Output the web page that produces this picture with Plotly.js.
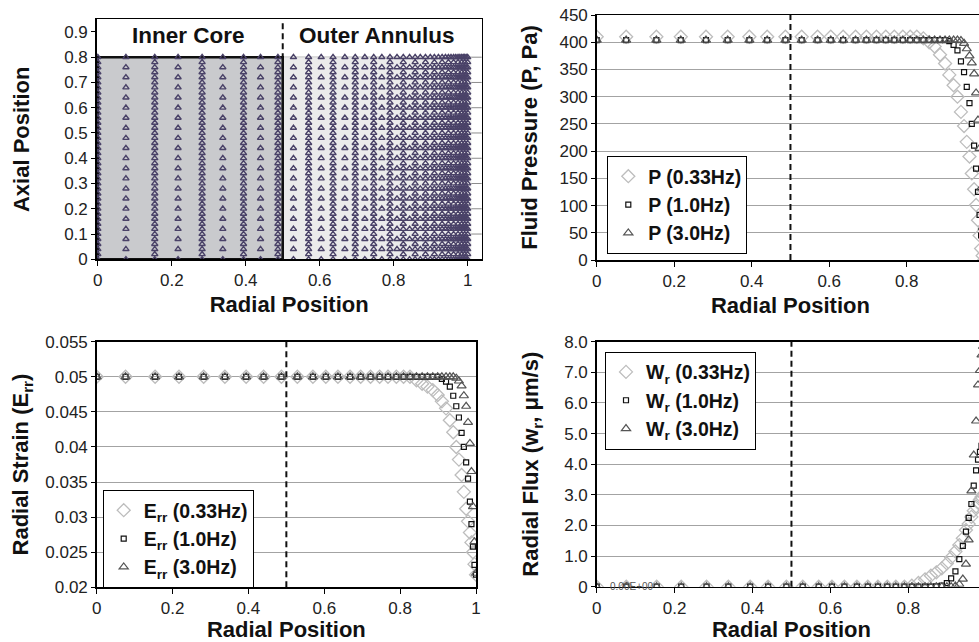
<!DOCTYPE html>
<html><head><meta charset="utf-8">
<script src="https://cdn.plot.ly/plotly-3.0.1.min.js"></script>
<style>html,body{margin:0;padding:0;overflow:hidden;background:#fff;width:979px;height:642px}#chart{width:990px;height:642px}</style>
</head><body><div id="chart"></div>
<script>
// Radial node positions (normalised radius)
const radialNodes = [0, 0.076, 0.154, 0.217, 0.282, 0.338, 0.394, 0.440, 0.487, 0.529, 0.570, 0.604, 0.636, 0.668, 0.696, 0.722, 0.746, 0.768, 0.790, 0.809, 0.826, 0.843, 0.858, 0.872, 0.886, 0.899, 0.910, 0.921, 0.931, 0.940, 0.948, 0.955, 0.962, 0.968, 0.974, 0.979, 0.984, 0.988, 0.992, 0.996, 1.0];
// Axial node positions: corner-node columns and mid-side-node columns
const axialCorner = [0,0.02,0.04,0.06,0.08,0.10,0.12,0.14,0.16,0.18,0.20,0.22,0.24,0.26,0.28,0.30,0.32,0.34,0.36,0.38,0.40,0.42,0.44,0.46,0.48,0.50,0.52,0.54,0.56,0.58,0.60,0.62,0.64,0.66,0.68,0.70,0.72,0.74,0.76,0.78,0.80];
const axialMid = [0,0.04,0.08,0.12,0.16,0.20,0.24,0.28,0.32,0.36,0.40,0.44,0.48,0.52,0.56,0.60,0.64,0.68,0.72,0.76,0.80];

// Fluid pressure (Pa)
const pressure033 = [410,410,410,410,410,410,410,410,410,410,410,410,410,410,410,410,410,410,410,410,410,407,400,392,377,361,340,321,300,272,246,217,190,159,130,101,73,45,21,8,0];
const pressure10  = [404,404,404,404,404,404,404,404,404,404,404,404,404,404,404,404,404,404,404,404,404,404,404,404,404,404,402,395,385,365,345,318,288,250,210,168,125,83,45,18,0];
const pressure30  = [404,404,404,404,404,404,404,404,404,404,404,404,404,404,404,404,404,404,404,404,404,404,404,404,404,404,404,404,404,403,398,388,375,362,342,307,257,205,132,60,0];
// Radial strain
const strain033 = [0.05,0.05,0.05,0.05,0.05,0.05,0.05,0.05,0.05,0.05,0.05,0.05,0.05,0.05,0.05,0.05,0.05,0.05,0.05,0.05,0.05,0.0495,0.0490,0.0486,0.0481,0.0474,0.0465,0.0455,0.0438,0.0421,0.0400,0.0382,0.0360,0.0336,0.0312,0.0294,0.0278,0.0264,0.0250,0.0233,0.0218];
const strain10  = [0.05,0.05,0.05,0.05,0.05,0.05,0.05,0.05,0.05,0.05,0.05,0.05,0.05,0.05,0.05,0.05,0.05,0.05,0.05,0.05,0.05,0.05,0.05,0.05,0.05,0.05,0.0497,0.0493,0.0486,0.0473,0.0458,0.0442,0.0420,0.0400,0.0378,0.0355,0.0322,0.0290,0.0258,0.0232,0.0218];
const strain30  = [0.05,0.05,0.05,0.05,0.05,0.05,0.05,0.05,0.05,0.05,0.05,0.05,0.05,0.05,0.05,0.05,0.05,0.05,0.05,0.05,0.05,0.05,0.05,0.05,0.05,0.05,0.05,0.05,0.05,0.05,0.0498,0.0494,0.0487,0.0473,0.0458,0.0435,0.0405,0.0365,0.0315,0.0265,0.0220];
// Radial flux (um/s)
const flux033 = [0,0,0,0,0,0,0,0,0,0,0,0,0,0,0,0,0,0,0,0.03,0.12,0.24,0.36,0.47,0.60,0.76,0.95,1.15,1.36,1.58,1.85,2.05,2.28,2.48,2.62,2.75,2.85,2.93,3.0,3.05,3.1];
const flux10  = [0,0,0,0,0,0,0,0,0,0,0,0,0,0,0,0,0,0,0,0,0,0,0,0.01,0.04,0.12,0.27,0.5,0.9,1.33,1.8,2.25,2.7,3.3,3.8,4.15,4.4,4.6,4.75,4.85,4.9];
const flux30  = [0,0,0,0,0,0,0,0,0,0,0,0,0,0,0,0,0,0,0,0,0,0,0,0,0,0,0,0.02,0.08,0.25,0.74,1.53,3.13,4.30,5.41,6.59,7.06,7.57,7.85,7.95,8.0];

const xTicks = [0,0.2,0.4,0.6,0.8,1];
const xTickText = ['0','0.2','0.4','0.6','0.8','1'];
const xTicksCropped = [0,0.2,0.4,0.6,0.8];
const xTickTextCropped = ['0','0.2','0.4','0.6','0.8'];
const axialTicks = [0,0.1,0.2,0.3,0.4,0.5,0.6,0.7,0.8,0.9];
const axialTickText = ['0','0.1','0.2','0.3','0.4','0.5','0.6','0.7','0.8','0.9'];
const meshGridLevels = [0.1,0.2,0.3,0.4,0.5,0.6,0.7,0.8];
const pressureTicks = [0,50,100,150,200,250,300,350,400,450];
const strainTicks = [0.02,0.025,0.03,0.035,0.04,0.045,0.05,0.055];
const strainTickText = ['0.02','0.025','0.03','0.035','0.04','0.045','0.05','0.055'];
const fluxTicks = [0,1,2,3,4,5,6,7,8];
const fluxTickText = ['0','1.0','2.0','3.0','4.0','5.0','6.0','7.0','8.0'];

// build mesh node table
const meshX = [], meshY = [];
radialNodes.forEach((r, i) => {
  const col = (i % 2 === 0) ? axialCorner : axialMid;
  col.forEach(z => { meshX.push(r); meshY.push(z); });
});

const FONT = 'Liberation Sans, Arial, Helvetica, sans-serif';
const diamond = {symbol:'diamond-open', size:10, color:'#bdbdbd', line:{width:1.3, color:'#bdbdbd'}};
const square = {symbol:'square-open', size:5, color:'#111', line:{width:1.2, color:'#111'}};
const tri = {symbol:'triangle-up-open', size:8, color:'#555', line:{width:1.2, color:'#555'}};

function series(y, name, marker, xa, ya, leg) {
  return {type:'scatter', mode:'markers', x: radialNodes, y: y, name: name, marker: marker,
          xaxis: xa, yaxis: ya, legend: leg, cliponaxis: true};
}

const traces = [
  {type:'scatter', mode:'markers', x: meshX, y: meshY, xaxis:'x', yaxis:'y', showlegend:false,
   marker:{symbol:'triangle-up-open', size:5.5, color:'#4a4268', line:{width:1.4, color:'#4a4268'}}},
  series(pressure033, 'P (0.33Hz)', diamond, 'x2', 'y2', 'legend'),
  series(pressure10, 'P (1.0Hz)', square, 'x2', 'y2', 'legend'),
  series(pressure30, 'P (3.0Hz)', tri, 'x2', 'y2', 'legend'),
  series(strain033, 'E<sub>rr</sub> (0.33Hz)', diamond, 'x3', 'y3', 'legend2'),
  series(strain10, 'E<sub>rr</sub> (1.0Hz)', square, 'x3', 'y3', 'legend2'),
  series(strain30, 'E<sub>rr</sub> (3.0Hz)', tri, 'x3', 'y3', 'legend2'),
  series(flux033, 'W<sub>r</sub> (0.33Hz)', diamond, 'x4', 'y4', 'legend3'),
  series(flux10, 'W<sub>r</sub> (1.0Hz)', square, 'x4', 'y4', 'legend3'),
  series(flux30, 'W<sub>r</sub> (3.0Hz)', tri, 'x4', 'y4', 'legend3')
];

const tickFont = {family: FONT, size: 17, color:'#222'};
const titleFont = {family: FONT, size: 22, color:'#111', weight:'bold'};
function xax(domain, range, anchor, standoff, tv, tt) {
  return {domain: domain, range: range, anchor: anchor, tickvals: tv, ticktext: tt,
    showgrid:false, zeroline:false, showline:true, mirror:true, linecolor:'#000', linewidth:1.5,
    ticks:'outside', ticklen:5, tickcolor:'#000', tickfont: tickFont, automargin:false,
    title:{text:'Radial Position', font: titleFont, standoff: standoff}};
}
function yax(domain, range, anchor, tv, tt, title, grid, standoff) {
  return {domain: domain, range: range, anchor: anchor, tickvals: tv, ticktext: tt,
    showgrid: grid, gridcolor:'#a3a3a3', gridwidth:1, zeroline:false, showline:true, mirror:true,
    linecolor:'#000', linewidth:1.5, ticks:'outside', ticklen:4, tickcolor:'#000', tickfont: tickFont,
    automargin:false, title:{text: title, font: titleFont, standoff: standoff}};
}

const W = 990, H = 642;
const px = v => v / W, py = v => 1 - v / H;

const legendBase = {bgcolor:'#fff', bordercolor:'#000', borderwidth:1, xanchor:'left', yanchor:'top',
  font:{family: FONT, size:19.5, color:'#111', weight:'bold'}, tracegroupgap:0, itemwidth:30};

const shapes = [
  {type:'rect', xref:'x', yref:'y', x0:0.5, x1:1.01, y0:0, y1:0.8, fillcolor:'#ebebeb', line:{width:0}, layer:'below'},
  {type:'rect', xref:'x', yref:'y', x0:0, x1:0.5, y0:0, y1:0.8, fillcolor:'#c9cacd', line:{width:0}, layer:'below'}
];
meshGridLevels.forEach(g => shapes.push({type:'line', xref:'x domain', yref:'y', x0:0, x1:1, y0:g, y1:g,
  line:{color:'#8c8c8c', width:1}, layer:'below'}));
shapes.push({type:'rect', xref:'x', yref:'y', x0:0, x1:0.5, y0:0, y1:0.8, line:{color:'#111', width:2.5}, layer:'below'});
[['x','y'],['x2','y2'],['x3','y3'],['x4','y4']].forEach(([xa, ya]) => shapes.push({
  type:'line', xref: xa, yref: ya + ' domain', x0:0.5, x1:0.5, y0:0, y1:1,
  line:{color:'#111', width:2, dash:'6px,4px'}, layer:'above'}));

const layout = {
  width: W, height: H, autosize:false,
  margin:{l:0, r:0, t:0, b:0},
  paper_bgcolor:'#fff', plot_bgcolor:'#fff',
  font:{family: FONT, color:'#111'},
  xaxis: xax([px(96.7), px(481.7)], [-0.003, 1.038], 'y', 7, xTicks, xTickText),
  yaxis: yax([py(259.3), py(19.3)], [0, 0.95], 'x', axialTicks, axialTickText, 'Axial Position', false, 28),
  xaxis2: xax([px(596.7), px(984.2)], [0, 1], 'y2', 7, xTicksCropped, xTickTextCropped),
  yaxis2: yax([py(260), py(15)], [0, 450], 'x2', pressureTicks, pressureTicks.map(String), 'Fluid Pressure (P, Pa)', true, 15),
  xaxis3: xax([px(96.7), px(476)], [0, 1], 'y3', 9, xTicks, xTickText),
  yaxis3: yax([py(587.3), py(341.7)], [0.02, 0.055], 'x3', strainTicks, strainTickText, 'Radial Strain (E<sub>rr</sub>)', true, 10),
  xaxis4: xax([px(596.7), px(986.2)], [0, 1], 'y4', 9, xTicksCropped, xTickTextCropped),
  yaxis4: yax([py(586.7), py(341.7)], [0, 8], 'x4', fluxTicks, fluxTickText, 'Radial Flux (w<sub>r</sub>, μm/s)', true, 19),
  legend: Object.assign({}, legendBase, {x: px(607.3), y: py(156)}),
  legend2: Object.assign({}, legendBase, {x: px(102.7), y: py(490)}),
  legend3: Object.assign({}, legendBase, {x: px(605), y: py(351.7)}),
  shapes: shapes,
  annotations: [
    {xref:'x', yref:'y', x:0.244, y:0.887, text:'Inner Core', showarrow:false,
     font:{family: FONT, size:22.5, color:'#111', weight:'bold'}},
    {xref:'x', yref:'y', x:0.754, y:0.887, text:'Outer Annulus', showarrow:false,
     font:{family: FONT, size:22.5, color:'#111', weight:'bold'}},
    {xref:'x4', yref:'y4', x:0.09, y:0, text:'0.00E+00', showarrow:false,
     font:{family: FONT, size:10, color:'#555'}}
  ]
};

Plotly.newPlot('chart', traces, layout, {displayModeBar:false, staticPlot:true});
</script>
</body></html>
